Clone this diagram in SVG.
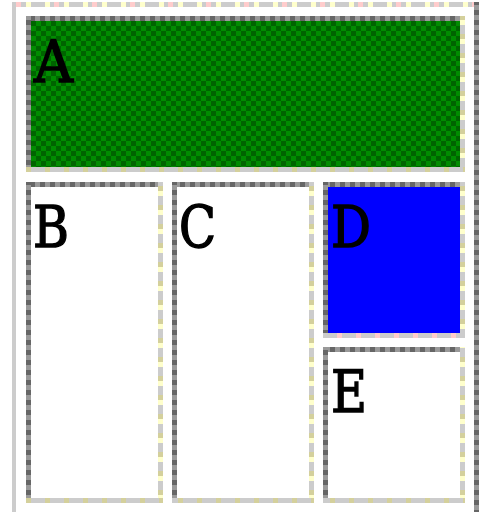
<svg xmlns="http://www.w3.org/2000/svg" width="488" height="512" viewBox="0 0 488 512">
<defs>
<pattern id="chk" patternUnits="userSpaceOnUse" x="31" y="21" width="10" height="10">
<rect width="10" height="10" fill="#008c00"/>
<rect width="5" height="5" fill="#006400"/>
<rect x="5" y="5" width="5" height="5" fill="#006400"/>
</pattern>
<pattern id="dkH" patternUnits="userSpaceOnUse" width="10" height="5">
<rect width="10" height="5" fill="#999"/>
<rect width="5" height="5" fill="#666"/>
</pattern>
<pattern id="dkV" patternUnits="userSpaceOnUse" width="5" height="10">
<rect width="5" height="10" fill="#999"/>
<rect width="5" height="5" fill="#666"/>
</pattern>
<pattern id="ltV" patternUnits="userSpaceOnUse" y="186" width="5" height="19">
<rect width="5" height="19" fill="#ccc"/>
<rect width="5" height="5" fill="#d4d09c"/>
<rect y="5" width="5" height="5" fill="#ffffcc"/>
</pattern>
<pattern id="ltH" patternUnits="userSpaceOnUse" x="26" width="19" height="5">
<rect width="19" height="5" fill="#ccc"/>
<rect width="5" height="5" fill="#d4d09c"/>
</pattern>
<pattern id="pkH" patternUnits="userSpaceOnUse" x="337" width="19" height="5">
<rect width="19" height="5" fill="#ccc"/>
<rect width="5" height="5" fill="#ffcccc"/>
</pattern>
<pattern id="outT" patternUnits="userSpaceOnUse" x="16" width="38" height="5">
<rect width="38" height="5" fill="#ccc"/>
<rect width="5" height="5" fill="#ffcccc"/>
<rect x="10" width="5" height="5" fill="#ffffcc"/>
<rect x="29" width="5" height="5" fill="#ffffcc"/>
</pattern>
<style>
.lbl{font-family:"DejaVu Serif","Liberation Serif",serif;font-size:58px;fill:#000;stroke:#000;stroke-width:1.5px;}
</style>
</defs>
<rect width="488" height="512" fill="#fff"/>
<g id="table">
<rect x="12" y="2" width="462" height="5" fill="url(#outT)"/>
<rect x="12" y="2" width="4" height="510" fill="#ccc"/>
<rect x="474" y="2" width="5" height="510" fill="url(#dkV)"/>
</g>
<g id="A">
<rect x="31" y="21" width="429" height="146" fill="url(#chk)"/>
<rect x="26" y="16" width="434" height="5" fill="url(#dkH)"/>
<rect x="26" y="16" width="5" height="151" fill="url(#dkV)"/>
<rect x="460" y="16" width="5" height="156" fill="url(#ltV)"/>
<rect x="26" y="167" width="439" height="5" fill="url(#ltH)"/>
<text class="lbl" x="34" y="82" textLength="39" lengthAdjust="spacingAndGlyphs">A</text>
</g>
<g id="B">
<rect x="31" y="187" width="127" height="311" fill="#fff"/>
<rect x="26" y="182" width="132" height="5" fill="url(#dkH)"/>
<rect x="26" y="182" width="5" height="316" fill="url(#dkV)"/>
<rect x="158" y="182" width="5" height="321" fill="url(#ltV)"/>
<rect x="26" y="498" width="137" height="5" fill="url(#ltH)"/>
<text class="lbl" x="33" y="247" textLength="36" lengthAdjust="spacingAndGlyphs">B</text>
</g>
<g id="C">
<rect x="177" y="187" width="132" height="311" fill="#fff"/>
<rect x="172" y="182" width="137" height="5" fill="url(#dkH)"/>
<rect x="172" y="182" width="5" height="316" fill="url(#dkV)"/>
<rect x="309" y="182" width="5" height="321" fill="url(#ltV)"/>
<rect x="172" y="498" width="142" height="5" fill="url(#ltH)"/>
<text class="lbl" x="179" y="247" textLength="37" lengthAdjust="spacingAndGlyphs">C</text>
</g>
<g id="D">
<rect x="328" y="187" width="132" height="146" fill="#0000ff"/>
<rect x="323" y="182" width="137" height="5" fill="url(#dkH)"/>
<rect x="323" y="182" width="5" height="151" fill="url(#dkV)"/>
<rect x="460" y="182" width="5" height="156" fill="url(#ltV)"/>
<rect x="323" y="333" width="142" height="5" fill="url(#pkH)"/>
<text class="lbl" x="331" y="247" textLength="40" lengthAdjust="spacingAndGlyphs">D</text>
</g>
<g id="E">
<rect x="328" y="352" width="132" height="146" fill="#fff"/>
<rect x="323" y="347" width="137" height="5" fill="url(#dkH)"/>
<rect x="323" y="347" width="5" height="151" fill="url(#dkV)"/>
<rect x="460" y="347" width="5" height="156" fill="url(#ltV)"/>
<rect x="323" y="498" width="142" height="5" fill="url(#ltH)"/>
<text class="lbl" x="331" y="412" textLength="36" lengthAdjust="spacingAndGlyphs">E</text>
</g>
<g id="connectors"/>
</svg>
